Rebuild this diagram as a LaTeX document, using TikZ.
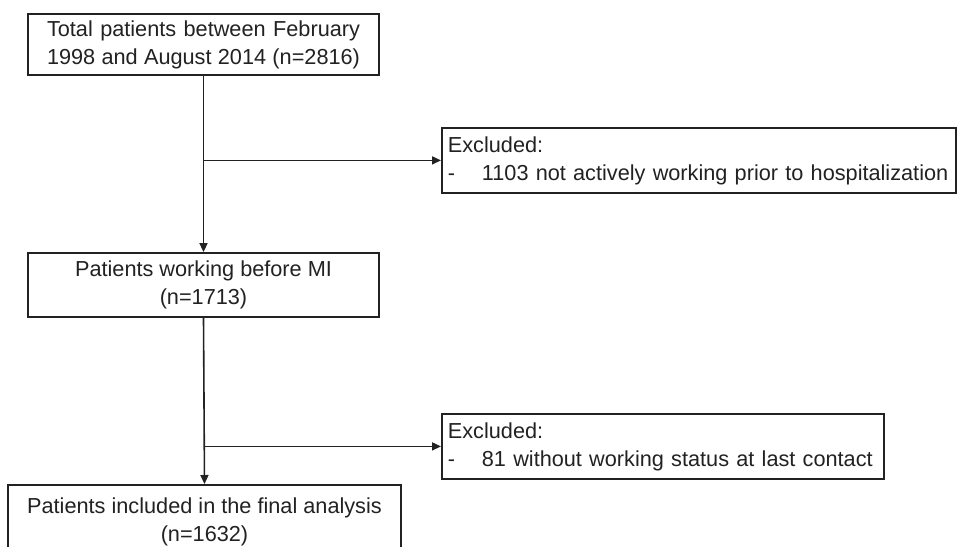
\documentclass[tikz,border=0pt]{standalone}
\usepackage{fontspec}
\setmainfont{Liberation Sans}
\usetikzlibrary{arrows.meta}
\definecolor{ink}{HTML}{222222}
\tikzset{
  box/.style={draw=ink, line width=1.8pt, inner sep=0pt, text=ink,
    font=\fontsize{21.7}{28}\selectfont, align=center},
  exbox/.style={box, align=left, anchor=north west, text width=#1, inner xsep=6pt},
  link/.style={draw=ink, line width=1.6pt},
  arr/.style={link, -{Triangle[length=9pt,width=8pt]}}
}
\begin{document}
\begin{tikzpicture}[x=1pt,y=-1pt]
\clip (0,0) rectangle (957,546);
\fill[white] (0,0) rectangle (957,546);
\node[box, minimum width=351pt, minimum height=61pt] (b1) at (203.5,44.5)
  {\makebox[313pt][s]{Total patients between February}\\\makebox[313pt][s]{1998 and August 2014 (n=2816)}};
\node[box, minimum width=351pt, minimum height=64pt] (b2) at (203.5,285)
  {Patients working before MI\\(n=1713)};
\node[box, anchor=north, minimum width=393pt, minimum height=74pt] (b3) at (204.5,484)
  {Patients included in the final analysis\\(n=1632)};
\node[exbox=502pt, minimum height=65pt] (e1) at (441,127)
  {Excluded:\\\makebox[34pt][l]{-}1103 not actively working prior to hospitalization};
\node[exbox=430pt, minimum height=65pt] (e2) at (441,413)
  {Excluded:\\\makebox[34pt][l]{-}81 without working status at last contact};
\coordinate (j1) at (b1.south |- e1.west);
\coordinate (j2) at (b2.south |- e2.west);
\draw[arr] (b1.south) -- (b2.north);
\draw[arr] (b2.south) -- (b3.north);
\draw[arr] (j1) -- (e1.west);
\draw[arr] (j2) -- (e2.west);
\end{tikzpicture}
\end{document}
